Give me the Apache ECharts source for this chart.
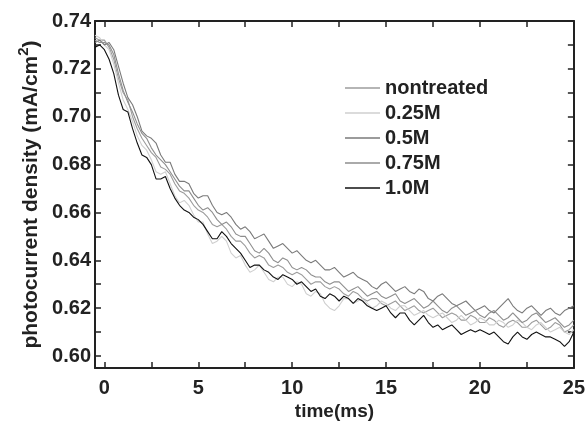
<!DOCTYPE html>
<html lang="en">
  <head>
    <meta charset="UTF-8" />
    <script src="https://cdn.jsdelivr.net/npm/echarts@6/dist/echarts.min.js"></script>
    <title>photocurrent</title>
    <style>
      html, body { margin: 0; padding: 0; background: #fff; }
      #app { width: 588px; height: 430px; }
    </style>
  </head>
  <body>
    <div id="app"></div>
    <script>
      // time (ms)
      const times = [-0.5, -0.25,
        0, 0.25, 0.5, 0.75, 1, 1.25, 1.5, 1.75, 2, 2.25, 2.5, 2.75, 3, 3.25, 3.5, 3.75,
        4, 4.25, 4.5, 4.75, 5, 5.25, 5.5, 5.75, 6, 6.25, 6.5, 6.75, 7, 7.25, 7.5, 7.75,
        8, 8.25, 8.5, 8.75, 9, 9.25, 9.5, 9.75, 10, 10.25, 10.5, 10.75, 11, 11.25, 11.5, 11.75,
        12, 12.25, 12.5, 12.75, 13, 13.25, 13.5, 13.75, 14, 14.25, 14.5, 14.75, 15, 15.25, 15.5, 15.75,
        16, 16.25, 16.5, 16.75, 17, 17.25, 17.5, 17.75, 18, 18.25, 18.5, 18.75, 19, 19.25, 19.5, 19.75,
        20, 20.25, 20.5, 20.75, 21, 21.25, 21.5, 21.75, 22, 22.25, 22.5, 22.75, 23, 23.25, 23.5, 23.75,
        24, 24.25, 24.5, 24.75, 25];

      // photocurrent density (mA/cm2)
      const nontreated = [0.733, 0.732,
        0.732, 0.729, 0.724, 0.716, 0.710, 0.707, 0.700, 0.695, 0.691, 0.688, 0.685, 0.683,
        0.679, 0.678, 0.676, 0.672, 0.669, 0.668, 0.666, 0.663, 0.661, 0.660, 0.658, 0.655,
        0.654, 0.655, 0.653, 0.650, 0.648, 0.648, 0.646, 0.643, 0.641, 0.642, 0.641, 0.638,
        0.637, 0.638, 0.637, 0.635, 0.634, 0.635, 0.634, 0.632, 0.630, 0.631, 0.631, 0.629,
        0.628, 0.629, 0.628, 0.626, 0.625, 0.627, 0.626, 0.624, 0.623, 0.624, 0.624, 0.622,
        0.621, 0.622, 0.623, 0.621, 0.619, 0.620, 0.621, 0.619, 0.618, 0.619, 0.620, 0.618,
        0.616, 0.617, 0.618, 0.617, 0.615, 0.615, 0.617, 0.616, 0.614, 0.614, 0.616, 0.615,
        0.613, 0.612, 0.614, 0.615, 0.614, 0.612, 0.612, 0.614, 0.615, 0.613, 0.611, 0.612,
        0.614, 0.613, 0.610, 0.611, 0.613];
      const m025 = [0.734, 0.733,
        0.730, 0.728, 0.722, 0.714, 0.707, 0.703, 0.698, 0.692, 0.688, 0.686, 0.682, 0.677,
        0.676, 0.677, 0.672, 0.667, 0.664, 0.665, 0.663, 0.659, 0.656, 0.656, 0.651, 0.647,
        0.648, 0.650, 0.648, 0.643, 0.641, 0.642, 0.638, 0.635, 0.636, 0.638, 0.635, 0.632,
        0.631, 0.633, 0.633, 0.630, 0.629, 0.631, 0.630, 0.626, 0.625, 0.627, 0.626, 0.622,
        0.620, 0.619, 0.621, 0.624, 0.624, 0.622, 0.623, 0.624, 0.622, 0.620, 0.621, 0.623,
        0.622, 0.620, 0.619, 0.621, 0.621, 0.619, 0.617, 0.618, 0.619, 0.617, 0.616, 0.617,
        0.618, 0.616, 0.614, 0.615, 0.617, 0.615, 0.613, 0.614, 0.616, 0.615, 0.613, 0.613,
        0.615, 0.614, 0.612, 0.613, 0.615, 0.614, 0.612, 0.611, 0.613, 0.614, 0.612, 0.610,
        0.611, 0.612, 0.610, 0.609, 0.611];
      const m05 = [0.731, 0.732,
        0.730, 0.731, 0.728, 0.721, 0.714, 0.708, 0.705, 0.700, 0.694, 0.692, 0.691, 0.689,
        0.684, 0.681, 0.681, 0.676, 0.673, 0.673, 0.672, 0.668, 0.666, 0.667, 0.667, 0.663,
        0.660, 0.659, 0.660, 0.658, 0.655, 0.653, 0.654, 0.652, 0.649, 0.650, 0.651, 0.648,
        0.645, 0.646, 0.647, 0.645, 0.643, 0.644, 0.642, 0.640, 0.639, 0.640, 0.638, 0.636,
        0.636, 0.637, 0.635, 0.633, 0.634, 0.635, 0.633, 0.632, 0.631, 0.629, 0.628, 0.630,
        0.631, 0.629, 0.627, 0.628, 0.629, 0.627, 0.626, 0.628, 0.627, 0.624, 0.623, 0.625,
        0.626, 0.624, 0.622, 0.621, 0.622, 0.623, 0.621, 0.619, 0.620, 0.621, 0.619, 0.618,
        0.620, 0.622, 0.624, 0.621, 0.619, 0.618, 0.620, 0.621, 0.619, 0.617, 0.619, 0.620,
        0.618, 0.617, 0.619, 0.620, 0.621];
      const m075 = [0.732, 0.731,
        0.731, 0.730, 0.726, 0.718, 0.711, 0.706, 0.702, 0.697, 0.693, 0.691, 0.687, 0.684,
        0.682, 0.680, 0.677, 0.674, 0.671, 0.669, 0.669, 0.666, 0.663, 0.661, 0.662, 0.660,
        0.657, 0.655, 0.656, 0.654, 0.651, 0.650, 0.650, 0.647, 0.644, 0.643, 0.645, 0.643,
        0.640, 0.639, 0.641, 0.640, 0.637, 0.636, 0.637, 0.636, 0.634, 0.633, 0.633, 0.631,
        0.630, 0.631, 0.631, 0.629, 0.627, 0.628, 0.629, 0.627, 0.625, 0.626, 0.627, 0.625,
        0.624, 0.625, 0.626, 0.623, 0.622, 0.623, 0.624, 0.622, 0.620, 0.621, 0.623, 0.621,
        0.619, 0.618, 0.620, 0.621, 0.619, 0.617, 0.618, 0.619, 0.617, 0.616, 0.618, 0.619,
        0.617, 0.615, 0.616, 0.618, 0.616, 0.614, 0.615, 0.617, 0.618, 0.616, 0.614, 0.615,
        0.616, 0.614, 0.612, 0.613, 0.615];
      const m10 = [0.729, 0.730,
        0.728, 0.724, 0.718, 0.709, 0.703, 0.702, 0.695, 0.689, 0.684, 0.683, 0.680, 0.674,
        0.674, 0.675, 0.670, 0.666, 0.663, 0.661, 0.660, 0.658, 0.657, 0.655, 0.652, 0.649,
        0.649, 0.652, 0.650, 0.647, 0.645, 0.643, 0.640, 0.637, 0.638, 0.638, 0.636, 0.635,
        0.633, 0.632, 0.634, 0.633, 0.632, 0.630, 0.631, 0.629, 0.627, 0.628, 0.625, 0.624,
        0.626, 0.625, 0.623, 0.625, 0.624, 0.622, 0.624, 0.623, 0.621, 0.620, 0.619, 0.620,
        0.621, 0.618, 0.616, 0.618, 0.618, 0.615, 0.613, 0.615, 0.617, 0.614, 0.612, 0.613,
        0.611, 0.612, 0.613, 0.611, 0.609, 0.610, 0.611, 0.610, 0.611, 0.610, 0.609, 0.610,
        0.608, 0.606, 0.605, 0.608, 0.610, 0.608, 0.607, 0.609, 0.610, 0.609, 0.608, 0.608,
        0.607, 0.606, 0.604, 0.606, 0.610];

      const names = ["nontreated", "0.25M", "0.5M", "0.75M", "1.0M"];
      const colors = ["#9c9c9c", "#cfcfcf", "#7a7a7a", "#8e8e8e", "#111111"];
      const values = [nontreated, m025, m05, m075, m10];

      const xTicks = [0, 2.5, 5, 7.5, 10, 12.5, 15, 17.5, 20, 22.5, 25];
      const xLabels = [0, 5, 10, 15, 20, 25];
      const yTicks = [0.6, 0.61, 0.62, 0.63, 0.64, 0.65, 0.66, 0.67, 0.68, 0.69, 0.7, 0.71, 0.72, 0.73, 0.74];
      const yLabels = [0.6, 0.62, 0.64, 0.66, 0.68, 0.7, 0.72, 0.74];

      const font = "Liberation Sans";
      const axisColor = "#222";
      const chart = echarts.init(document.getElementById("app"));

      const frame = (pos) => ({
        type: "value",
        position: pos,
        axisLine: { show: true, onZero: false, lineStyle: { color: axisColor, width: 2 } },
        splitLine: { show: false },
      });
      const ticks = (vals) => ({ inside: true, length: 6, customValues: vals, lineStyle: { color: axisColor, width: 1.5 } });

      const xAxisBottom = Object.assign(frame("bottom"), {
        min: -0.5,
        max: 25,
        name: "time(ms)",
        nameLocation: "middle",
        nameGap: 34,
        nameMoveOverlap: false,
        nameTextStyle: { fontFamily: font, fontWeight: "bold", fontSize: 19, color: axisColor },
        axisTick: ticks(xTicks),
        axisLabel: { customValues: xLabels, margin: 10, fontFamily: font, fontWeight: "bold", fontSize: 20, color: axisColor },
      });
      const xAxisTop = Object.assign(frame("top"), {
        min: -0.5,
        max: 25,
        axisTick: ticks(xTicks),
        axisLabel: { show: false },
      });
      const yAxisLeft = Object.assign(frame("left"), {
        min: 0.595,
        max: 0.74,
        name: "photocurrent density (mA/cm{sup|2})",
        nameLocation: "middle",
        nameGap: 49,
        nameMoveOverlap: false,
        nameTextStyle: {
          fontFamily: font, fontWeight: "bold", fontSize: 21, color: axisColor, lineHeight: 30,
          rich: { sup: { fontFamily: font, fontWeight: "bold", fontSize: 15, color: axisColor, lineHeight: 15, verticalAlign: "top" } },
        },
        axisTick: ticks(yTicks),
        axisLabel: {
          customValues: yLabels, margin: 4, fontFamily: font, fontWeight: "bold", fontSize: 20, color: axisColor,
          formatter: (v) => v.toFixed(2),
        },
      });
      const yAxisRight = Object.assign(frame("right"), {
        min: 0.595,
        max: 0.74,
        axisTick: ticks(yTicks),
        axisLabel: { show: false },
      });

      chart.setOption({
        animation: false,
        grid: { left: 95, right: 13, top: 21, bottom: 62 },
        legend: {
          orient: "vertical",
          left: 345,
          top: 78,
          padding: 0,
          icon: "rect",
          itemWidth: 35,
          itemHeight: 1.3,
          itemGap: 5,
          textStyle: { fontFamily: font, fontWeight: "bold", fontSize: 20, color: axisColor, lineHeight: 17 },
          data: names,
        },
        xAxis: [xAxisBottom, xAxisTop],
        yAxis: [yAxisLeft, yAxisRight],
        series: names.map((n, k) => ({
          name: n,
          type: "line",
          xAxisIndex: 0,
          yAxisIndex: 0,
          symbol: "none",
          smooth: false,
          color: colors[k],
          lineStyle: { color: colors[k], width: 1.1 },
          data: times.map((t, i) => [t, values[k][i]]),
        })),
      });
    </script>
  </body>
</html>
